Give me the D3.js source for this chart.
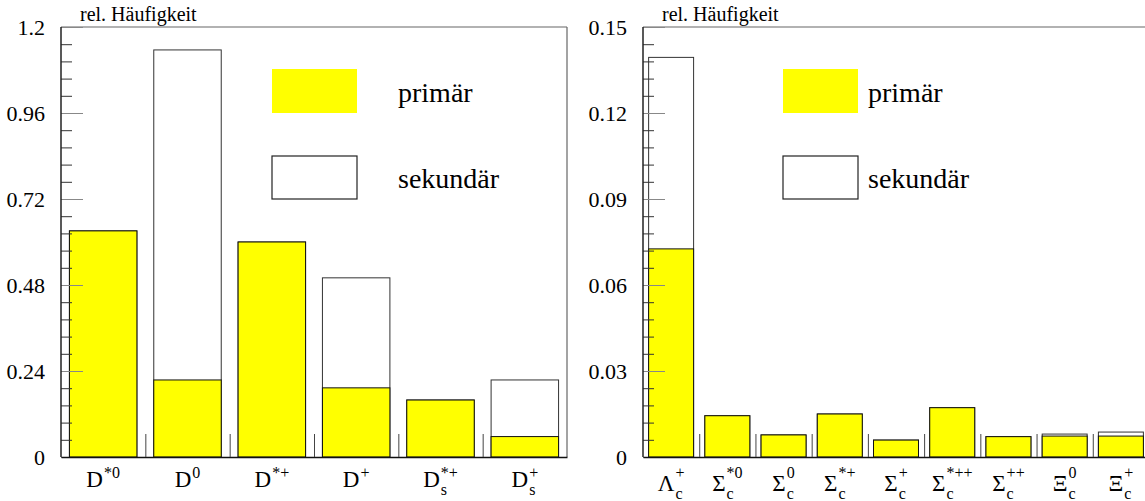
<!DOCTYPE html>
<html>
<head>
<meta charset="utf-8">
<script src="https://cdn.jsdelivr.net/npm/d3@7"></script>
<style>
    body { margin: 0; background: #fff; }
    text { font-family: "Liberation Serif", "Times New Roman", serif; fill: #000; }
</style>
</head>
<body>
<svg id="chart" width="1145" height="501"></svg>
<script>
// Left panel: D mesons
var leftBase = ['D', 'D', 'D', 'D', 'D', 'D'];
var leftSup = ['*0', '0', '*+', '+', '*+', '+'];
var leftSub = ['', '', '', '', 's', 's'];
var leftPrimary = [0.631, 0.215, 0.600, 0.193, 0.159, 0.057];
var leftTotal = [0.631, 1.136, 0.600, 0.500, 0.159, 0.215];
var leftTicks = [0, 0.24, 0.48, 0.72, 0.96, 1.2];
var leftTickLabels = ['0', '0.24', '0.48', '0.72', '0.96', '1.2'];

// Right panel: charmed baryons
var rightBase = ['\u039B', '\u03A3', '\u03A3', '\u03A3', '\u03A3', '\u03A3', '\u03A3', '\u039E', '\u039E'];
var rightSup = ['+', '*0', '0', '*+', '+', '*++', '++', '0', '+'];
var rightSub = ['c', 'c', 'c', 'c', 'c', 'c', 'c', 'c', 'c'];
var rightPrimary = [0.0726, 0.0144, 0.0077, 0.0150, 0.0059, 0.0172, 0.0071, 0.0073, 0.0073];
var rightTotal = [0.1394, 0.0144, 0.0077, 0.0150, 0.0059, 0.0172, 0.0071, 0.0080, 0.0087];
var rightTicks = [0, 0.03, 0.06, 0.09, 0.12, 0.15];
var rightTickLabels = ['0', '0.03', '0.06', '0.09', '0.12', '0.15'];

var legendLabels = ['primär', 'sekundär'];
var yTitle = 'rel. Häufigkeit';

var svg = d3.select('#chart');

function drawPanel(p) {
    var top = 27, bottom = 457;
    var g = svg.append('g');
    var idx = d3.range(p.primary.length);

    var x = d3.scaleBand()
        .domain(idx)
        .range([p.x0, p.x1])
        .paddingInner(0.2)
        .paddingOuter(0.1);

    var edge = d3.scaleLinear()
        .domain([0, idx.length])
        .range([p.x0, p.x1]);

    var y = d3.scaleLinear()
        .domain([0, p.max])
        .range([bottom, top]);

    // secondary (total) bars
    g.append('g')
        .selectAll('rect')
        .data(p.total)
        .join('rect')
        .attr('x', (d, i) => x(i))
        .attr('y', d => y(d))
        .attr('width', x.bandwidth())
        .attr('height', d => y(0) - y(d))
        .attr('fill', '#fff')
        .attr('stroke', '#333')
        .attr('stroke-width', 1);

    // primary bars
    g.append('g')
        .selectAll('rect')
        .data(p.primary)
        .join('rect')
        .attr('x', (d, i) => x(i))
        .attr('y', d => y(d))
        .attr('width', x.bandwidth())
        .attr('height', d => y(0) - y(d))
        .attr('fill', '#ffff00')
        .attr('stroke', '#111')
        .attr('stroke-width', 1);

    // frame top and right
    g.append('line')
        .attr('x1', p.x0).attr('x2', p.x1)
        .attr('y1', top).attr('y2', top)
        .attr('stroke', '#666').attr('stroke-width', 1.2);
    g.append('line')
        .attr('x1', p.x1).attr('x2', p.x1)
        .attr('y1', top).attr('y2', bottom)
        .attr('stroke', '#666').attr('stroke-width', 1.2);

    // y axis: minor ticks, major ticks, labels
    var minor = d3.range(0, p.max + p.minorStep / 2, p.minorStep);
    var minorAxis = g.append('g')
        .attr('transform', `translate(${p.x0},0)`)
        .call(d3.axisRight(y).tickValues(minor).tickSize(11).tickFormat(''));
    minorAxis.select('.domain').remove();
    minorAxis.selectAll('line').attr('stroke', '#333');

    var majorAxis = g.append('g')
        .attr('transform', `translate(${p.x0},0)`)
        .call(d3.axisRight(y).tickValues(p.ticks).tickSize(22).tickFormat(''));
    majorAxis.select('.domain').remove();
    majorAxis.selectAll('line').attr('stroke', '#888');

    var labelAxis = g.append('g')
        .attr('transform', `translate(${p.x0},0)`)
        .call(d3.axisLeft(y).tickValues(p.ticks).tickSize(0).tickPadding(16)
            .tickFormat((d, i) => p.tickLabels[i]));
    labelAxis.select('.domain').remove();
    labelAxis.selectAll('text')
        .style('font-family', '"Liberation Serif", serif')
        .attr('font-size', 22)
        .attr('fill', '#000');

    g.append('line')
        .attr('x1', p.x0).attr('x2', p.x0)
        .attr('y1', top).attr('y2', bottom)
        .attr('stroke', '#222').attr('stroke-width', 1.5);

    // x axis with ticks at bin edges
    var xAxis = g.append('g')
        .attr('transform', `translate(0,${bottom})`)
        .call(d3.axisTop(edge).tickValues(d3.range(1, idx.length)).tickSize(23).tickFormat('').tickSizeOuter(0));
    xAxis.select('.domain').attr('stroke', '#111').attr('stroke-width', 1.5);
    xAxis.selectAll('line').attr('stroke', '#444');

    // category labels: base glyph + stacked sup/sub
    idx.forEach(function(i) {
        var lg = g.append('g');
        var b = lg.append('text')
            .attr('x', 0).attr('y', p.baseY)
            .attr('font-size', 23)
            .text(p.base[i]);
        var bw = b.node().getComputedTextLength();
        var sp = lg.append('text')
            .attr('x', bw + 1).attr('y', 478)
            .attr('font-size', 16)
            .text(p.sup[i]);
        var sb = lg.append('text')
            .attr('x', bw + 1).attr('y', p.subY)
            .attr('font-size', 16)
            .text(p.sub[i]);
        var w = bw + 1 + Math.max(sp.node().getComputedTextLength(), sb.node().getComputedTextLength());
        lg.attr('transform', `translate(${x(i) + x.bandwidth() / 2 - w / 2},0)`);
    });

    // title
    g.append('text')
        .attr('x', p.x0 + 19)
        .attr('y', 21)
        .attr('font-size', 20)
        .text(yTitle);

    // legend
    g.append('rect')
        .attr('x', p.legX).attr('y', 69)
        .attr('width', p.legW).attr('height', 44)
        .attr('fill', '#ffff00');
    g.append('rect')
        .attr('x', p.legX).attr('y', 156)
        .attr('width', p.legW).attr('height', 43)
        .attr('fill', '#fff')
        .attr('stroke', '#222').attr('stroke-width', 1.2);
    g.append('text')
        .attr('x', p.legTextX).attr('y', 102)
        .attr('font-size', 28)
        .text(legendLabels[0]);
    g.append('text')
        .attr('x', p.legTextX).attr('y', 188)
        .attr('font-size', 28)
        .text(legendLabels[1]);
}

drawPanel({
    x0: 61, x1: 567, max: 1.2, minorStep: 0.048,
    primary: leftPrimary, total: leftTotal,
    ticks: leftTicks, tickLabels: leftTickLabels,
    base: leftBase, sup: leftSup, sub: leftSub,
    baseY: 487, subY: 495,
    legX: 272, legW: 85, legTextX: 398
});

drawPanel({
    x0: 643, x1: 1149, max: 0.15, minorStep: 0.006,
    primary: rightPrimary, total: rightTotal,
    ticks: rightTicks, tickLabels: rightTickLabels,
    base: rightBase, sup: rightSup, sub: rightSub,
    baseY: 491, subY: 499,
    legX: 783, legW: 75, legTextX: 868
});
</script>
</body>
</html>
